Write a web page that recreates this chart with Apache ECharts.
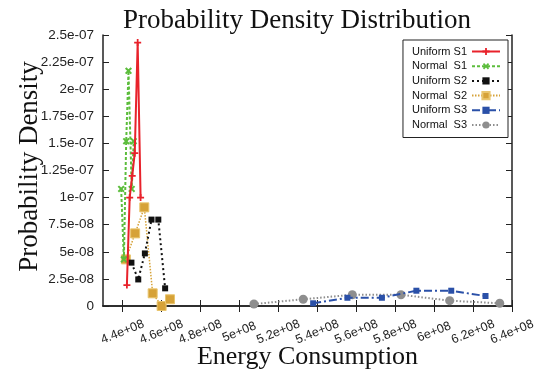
<!DOCTYPE html>
<html>
<head>
<meta charset="utf-8">
<script src="https://cdn.jsdelivr.net/npm/echarts@6/dist/echarts.min.js"></script>
<style>
  html, body { margin: 0; padding: 0; background: #fff; }
  #chart { width: 542px; height: 376px; }
</style>
</head>
<body>
<div id="chart"></div>
<script>
// tick labels, written the way gnuplot printed them
const xTickValues = [4.4e8, 4.6e8, 4.8e8, 5.0e8, 5.2e8, 5.4e8, 5.6e8, 5.8e8, 6.0e8, 6.2e8, 6.4e8];
const xTickLabels = ['4.4e+08', '4.6e+08', '4.8e+08', '5e+08', '5.2e+08', '5.4e+08', '5.6e+08', '5.8e+08', '6e+08', '6.2e+08', '6.4e+08'];
const yTickLabels = ['0', '2.5e-08', '5e-08', '7.5e-08', '1e-07', '1.25e-07', '1.5e-07', '1.75e-07', '2e-07', '2.25e-07', '2.5e-07'];

const seriesNames = ['Uniform S1', 'Normal  S1', 'Uniform S2', 'Normal  S2', 'Uniform S3', 'Normal  S3'];

// [energy, density]
const uniformS1 = [[4.4227e8, 1.93e-8], [4.437e8, 1.0e-7], [4.45e8, 1.2e-7], [4.463e8, 1.41e-7], [4.478e8, 2.43e-7], [4.493e8, 1.0e-7]];
const normalS1 = [[4.3933e8, 1.08e-7], [4.4072e8, 4.3e-8], [4.4191e8, 1.52e-7], [4.4309e8, 2.17e-7], [4.4474e8, 1.08e-7], [4.4577e8, 1.52e-7]];
const uniformS2 = [[4.446e8, 4.0e-8], [4.481e8, 2.45e-8], [4.515e8, 4.85e-8], [4.549e8, 7.97e-8], [4.584e8, 7.97e-8], [4.619e8, 1.63e-8]];
const normalS2 = [[4.4175e8, 4.3e-8], [4.465e8, 6.7e-8], [4.512e8, 9.1e-8], [4.555e8, 1.17e-8], [4.601e8, 0], [4.644e8, 6.2e-9]];
const uniformS3 = [[5.379e8, 2.5e-9], [5.555e8, 7.6e-9], [5.732e8, 7.6e-9], [5.909e8, 1.41e-8], [6.088e8, 1.41e-8], [6.264e8, 9.2e-9]];
const normalS3 = [[5.075e8, 1.8e-9], [5.328e8, 6.2e-9], [5.58e8, 1.04e-8], [5.83e8, 1.04e-8], [6.08e8, 4.9e-9], [6.337e8, 2.5e-9]];

const serif = '"Liberation Serif", "DejaVu Serif", serif';
const sans = '"Liberation Sans", Arial, sans-serif';

const plusPath = 'path://M3,0H5V3H8V5H5V8H3V5H0V3H3Z';

const chart = echarts.init(document.getElementById('chart'), null, { renderer: 'canvas' });

const frameLine = { show: true, lineStyle: { color: '#222', width: 1.5 } };
const innerTick = { show: true, inside: true, length: 6, lineStyle: { color: '#222', width: 1 } };

function lineSeries(name, data, color, type, width, symbol, size, extra) {
  return Object.assign({
    name: name,
    type: 'line',
    data: data,
    symbol: symbol,
    symbolSize: size,
    showSymbol: true,
    itemStyle: { color: color },
    lineStyle: { color: color, width: width, type: type },
    emphasis: { disabled: true },
    animation: false
  }, extra || {});
}

chart.setOption({
  backgroundColor: '#fff',
  title: {
    text: 'Probability Density Distribution',
    left: 292,
    textAlign: 'center',
    top: 2,
    textStyle: { fontFamily: serif, fontSize: 27, fontWeight: 'normal', color: '#111' }
  },
  grid: { left: 103, right: 30, top: 35, bottom: 70, outerBoundsMode: 'none', containLabel: false },
  legend: {
    orient: 'vertical',
    right: 34,
    top: 40,
    align: 'right',
    data: seriesNames,
    itemWidth: 28,
    itemHeight: 9,
    itemGap: 3.7,
    padding: [6, 7, 7, 9],
    borderColor: '#222',
    borderWidth: 1,
    backgroundColor: '#fff',
    textStyle: { fontFamily: sans, fontSize: 11, color: '#111', width: 55 }
  },
  xAxis: [
    {
      type: 'value',
      position: 'bottom',
      min: 4.3e8,
      max: 6.4e8,
      name: 'Energy Consumption',
      nameLocation: 'middle',
      nameGap: 38,
      nameMoveOverlap: false,
      nameTextStyle: { fontFamily: serif, fontSize: 26, color: '#111' },
      axisLine: frameLine,
      axisTick: Object.assign({ customValues: xTickValues }, innerTick),
      axisLabel: {
        customValues: xTickValues,
        rotate: 22,
        margin: 26,
        align: 'center',
        verticalAlign: 'middle',
        fontFamily: sans,
        fontSize: 12.5,
        color: '#222',
        formatter: function (v) {
          const i = xTickValues.findIndex(function (t) { return Math.abs(t - v) < 1e3; });
          return i >= 0 ? xTickLabels[i] : '';
        }
      },
      splitLine: { show: false }
    },
    {
      type: 'value',
      position: 'top',
      min: 4.3e8,
      max: 6.4e8,
      axisLine: frameLine,
      axisTick: Object.assign({ customValues: xTickValues }, innerTick),
      axisLabel: { show: false },
      splitLine: { show: false }
    }
  ],
  yAxis: [
    {
      type: 'value',
      position: 'left',
      min: 0,
      max: 2.5e-7,
      interval: 2.5e-8,
      name: 'Probability Density',
      nameLocation: 'middle',
      nameGap: 60,
      nameMoveOverlap: false,
      nameTextStyle: { fontFamily: serif, fontSize: 27, color: '#111', padding: [0, 0, 0, 8] },
      axisLine: frameLine,
      axisTick: innerTick,
      axisLabel: {
        margin: 9,
        fontFamily: sans,
        fontSize: 13.5,
        color: '#222',
        formatter: function (v) { return yTickLabels[Math.round(v / 2.5e-8)]; }
      },
      splitLine: { show: false }
    },
    {
      type: 'value',
      position: 'right',
      min: 0,
      max: 2.5e-7,
      interval: 2.5e-8,
      axisLine: frameLine,
      axisTick: innerTick,
      axisLabel: { show: false },
      splitLine: { show: false }
    }
  ],
  series: [
    lineSeries(seriesNames[0], uniformS1, '#e8222b', 'solid', 2, plusPath, 7, { z: 6 }),
    lineSeries(seriesNames[1], normalS1, '#5cbd3c', [3, 2], 2, plusPath, 8, { symbolRotate: 45, z: 5 }),
    lineSeries(seriesNames[2], uniformS2, '#111111', [2, 3], 2, 'rect', 6, { z: 4 }),
    lineSeries(seriesNames[3], normalS2, '#d6a238', [1.5, 1.5], 1.5, 'rect', 9, { z: 3, itemStyle: { color: '#d6a238', borderColor: '#e9c56e', borderWidth: 1 } }),
    lineSeries(seriesNames[4], uniformS3, '#2a50a8', [8, 3, 2, 3], 2, 'rect', 6, { z: 4 }),
    lineSeries(seriesNames[5], normalS3, '#8e8e8e', [1.5, 2], 2, 'circle', 9, { z: 3 })
  ]
});
</script>
</body>
</html>
